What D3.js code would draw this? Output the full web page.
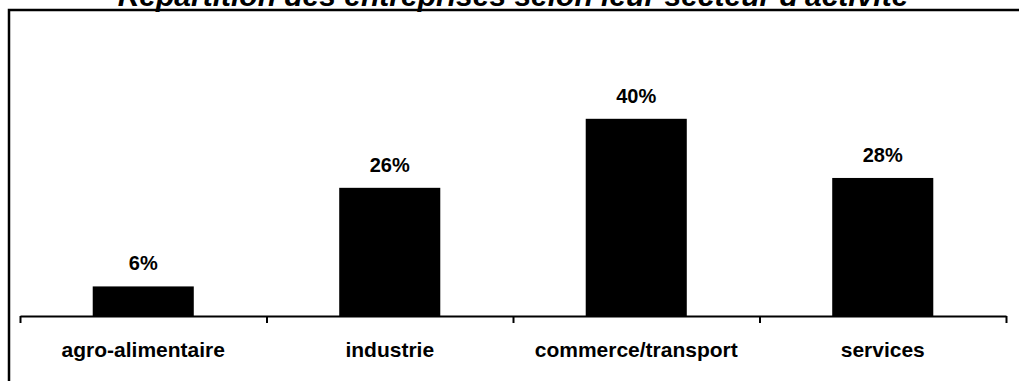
<!DOCTYPE html>
<html>
<head>
<meta charset="utf-8">
<script src="https://cdn.jsdelivr.net/npm/d3@7"></script>
<style>
  html, body { margin: 0; padding: 0; background: #fff; }
  svg { display: block; }
  text { font-family: "Liberation Sans", Arial, sans-serif; fill: #000; }
</style>
</head>
<body>
<svg id="chart" width="1019" height="381"></svg>
<script>
// Répartition des entreprises par secteur d'activité (en %)
const categories = ["agro-alimentaire", "industrie", "commerce/transport", "services"];
const shares = [6, 26, 40, 28];
const title = "Répartition des entreprises selon leur secteur d'activité";

const svg = d3.select("#chart");
const W = 1019, H = 381;

// Chart area frame
svg.append("rect")
  .attr("x", 9).attr("y", 10)
  .attr("width", W + 20).attr("height", H + 20)
  .attr("fill", "none").attr("stroke", "#000").attr("stroke-width", 2.5);

// Title, partly above the frame
svg.append("text")
  .attr("x", 513).attr("y", 6)
  .attr("text-anchor", "middle")
  .attr("font-size", 30).attr("font-weight", "bold").attr("font-style", "italic")
  .text(title);

const axisLeft = 20, axisRight = 1006, axisY = 316;

const x = d3.scaleBand()
  .domain(categories)
  .range([axisLeft, axisRight])
  .paddingInner(0.59)
  .paddingOuter(0.295);

const y = d3.scaleLinear()
  .domain([0, 50])
  .range([axisY, axisY - 50 * 4.93]);

// Bars
svg.append("g").selectAll("rect")
  .data(categories)
  .join("rect")
  .attr("x", d => x(d))
  .attr("width", x.bandwidth())
  .attr("y", (d, i) => y(shares[i]))
  .attr("height", (d, i) => y(0) - y(shares[i]))
  .attr("fill", "#000");

// Value labels
svg.append("g").selectAll("text")
  .data(categories)
  .join("text")
  .attr("x", d => x(d) + x.bandwidth() / 2)
  .attr("y", (d, i) => y(shares[i]) - 16)
  .attr("text-anchor", "middle")
  .attr("font-size", 20).attr("font-weight", "bold")
  .text((d, i) => shares[i] + "%");

// Category axis with ticks between the groups
const tickScale = d3.scaleLinear().domain([0, categories.length]).range([axisLeft, axisRight]);
const axis = svg.append("g")
  .attr("transform", `translate(0,${axisY})`)
  .call(d3.axisBottom(tickScale)
    .tickValues(d3.range(categories.length + 1))
    .tickSizeInner(7).tickSizeOuter(0)
    .tickFormat(""));
axis.select(".domain").attr("stroke", "#000").attr("stroke-width", 2);
axis.selectAll(".tick line").attr("stroke", "#000").attr("stroke-width", 2);

// Category labels
svg.append("g").selectAll("text")
  .data(categories)
  .join("text")
  .attr("x", d => x(d) + x.bandwidth() / 2)
  .attr("y", 357)
  .attr("text-anchor", "middle")
  .attr("font-size", 21).attr("font-weight", "bold")
  .text(d => d);
</script>
</body>
</html>
